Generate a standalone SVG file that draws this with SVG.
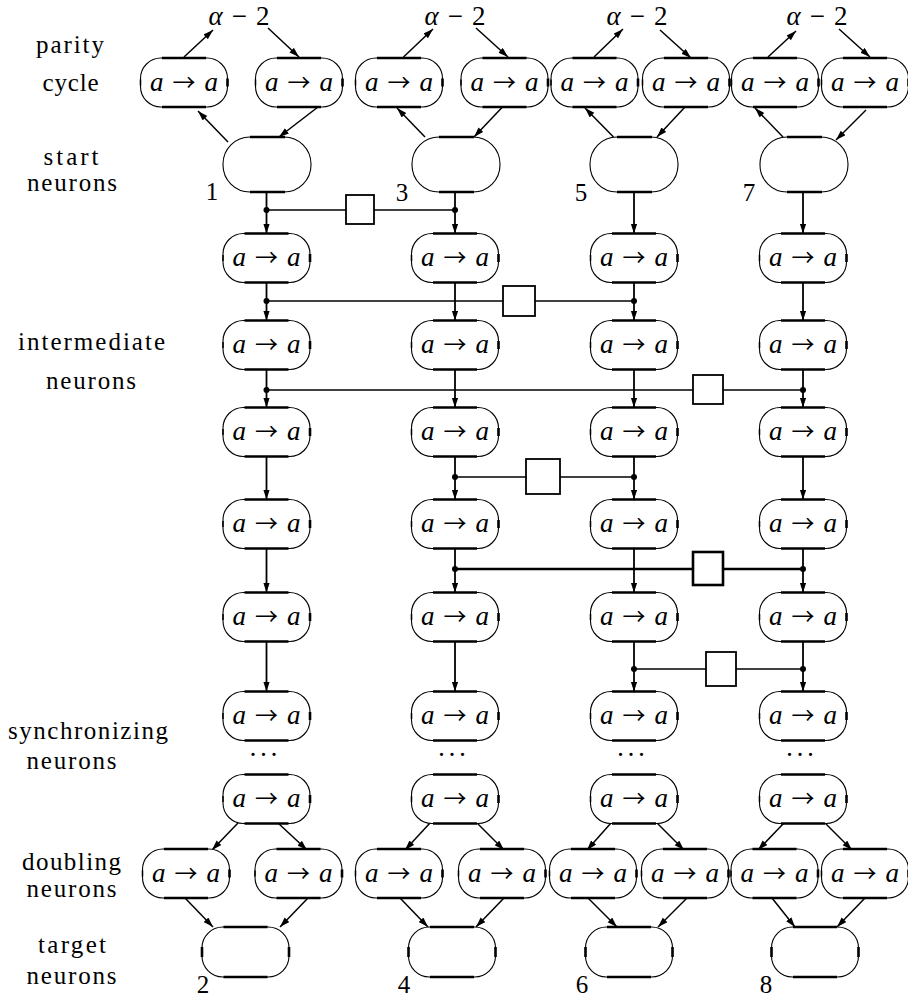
<svg xmlns="http://www.w3.org/2000/svg" xmlns:xlink="http://www.w3.org/1999/xlink" width="908" height="998" viewBox="0 0 908 998">
<style>
text{font-family:"Liberation Serif","DejaVu Serif",serif;fill:#000}
.lab{font-size:25px;text-anchor:middle}
.aa{font-size:27px;text-anchor:middle}
.i{font-style:italic}
.ar{font-family:"Noto Sans CJK JP","DejaVu Serif",serif;font-size:23px;font-style:normal}
.o{fill:#fff;stroke:#000;stroke-width:1.1}
.t{fill:none;stroke:#000;stroke-width:2.6}
.k{fill:none;stroke:#000;stroke-width:2.6}
.v{stroke:#000;stroke-width:1.8;fill:none}
.d{stroke:#000;stroke-width:1.5;fill:none}
.h{stroke:#000;stroke-width:1.4;fill:none}
.hb{stroke:#000;stroke-width:2.4;fill:none}
.dot{fill:#000}
.bx{fill:#fff;stroke:#000;stroke-width:1.8}
.bxb{fill:#fff;stroke:#000;stroke-width:2.6}
</style>
<defs>
<marker id="ah" markerWidth="11" markerHeight="8" refX="10" refY="3.25" orient="auto" markerUnits="userSpaceOnUse">
<path d="M0,0 L10,3.25 L0,6.5 z" fill="#000"/>
</marker>
<g id="nm">
<rect class="o" x="-43.5" y="-24.5" width="87" height="49" rx="20.5" ry="20.5"/>
<path class="t" d="M-22,-24.5 H22 M-22,24.5 H22"/>
<path class="k" d="M43.5,-4 V4"/>
<path class="d" d="M-43.5,-3 V3"/>
</g>
<g id="ns">
<rect class="o" x="-44" y="-27.5" width="88" height="55" rx="27" ry="27"/>
<path class="t" d="M-17,-27.5 H18 M-17,27.5 H18"/>
</g>
<g id="nt">
<rect class="o" x="-43.5" y="-25" width="87" height="50" rx="21" ry="21"/>
<path class="t" d="M-22,-25 H22 M-22,25 H22"/>
<path class="k" d="M43.5,-5 V5 M-43.5,-5 V5"/>
</g>
</defs>

<g id="side-labels">
<text class="lab" x="70" y="53" textLength="68" lengthAdjust="spacing">parity</text>
<text class="lab" x="70.5" y="91" textLength="56" lengthAdjust="spacing">cycle</text>
<text class="lab" x="71" y="165" textLength="55" lengthAdjust="spacing">start</text>
<text class="lab" x="72" y="191" textLength="90" lengthAdjust="spacing">neurons</text>
<text class="lab" x="91.5" y="350" textLength="147" lengthAdjust="spacing">intermediate</text>
<text class="lab" x="91" y="389" textLength="90" lengthAdjust="spacing">neurons</text>
<text class="lab" x="88" y="739" textLength="160" lengthAdjust="spacing">synchronizing</text>
<text class="lab" x="71.5" y="769" textLength="90" lengthAdjust="spacing">neurons</text>
<text class="lab" x="71.5" y="870" textLength="99" lengthAdjust="spacing">doubling</text>
<text class="lab" x="71.5" y="897" textLength="90" lengthAdjust="spacing">neurons</text>
<text class="lab" x="72" y="953" textLength="68" lengthAdjust="spacing">target</text>
<text class="lab" x="71.5" y="984" textLength="90" lengthAdjust="spacing">neurons</text>
</g>

<g id="connectors">
<line class="d" x1="184" y1="57" x2="213" y2="30" marker-end="url(#ah)"/>
<line class="d" x1="268" y1="28" x2="299" y2="57" marker-end="url(#ah)"/>
<line class="d" x1="228" y1="142" x2="198" y2="111" marker-end="url(#ah)"/>
<line class="d" x1="318" y1="107" x2="279" y2="137" marker-end="url(#ah)"/>
<line class="d" x1="403.5" y1="57" x2="433" y2="29" marker-end="url(#ah)"/>
<line class="d" x1="476" y1="28" x2="508" y2="57" marker-end="url(#ah)"/>
<line class="d" x1="425" y1="137" x2="397" y2="108" marker-end="url(#ah)"/>
<line class="d" x1="502.5" y1="107" x2="474" y2="137" marker-end="url(#ah)"/>
<line class="d" x1="594" y1="57" x2="623" y2="29" marker-end="url(#ah)"/>
<line class="d" x1="660" y1="30" x2="691" y2="58" marker-end="url(#ah)"/>
<line class="d" x1="613.5" y1="137" x2="585" y2="108" marker-end="url(#ah)"/>
<line class="d" x1="685" y1="107" x2="657" y2="137" marker-end="url(#ah)"/>
<line class="d" x1="768" y1="57" x2="796" y2="31" marker-end="url(#ah)"/>
<line class="d" x1="839" y1="29" x2="870" y2="57" marker-end="url(#ah)"/>
<line class="d" x1="783" y1="137" x2="755" y2="108" marker-end="url(#ah)"/>
<line class="d" x1="866" y1="110" x2="836" y2="140" marker-end="url(#ah)"/>

<line class="v" x1="266.5" y1="192" x2="266.5" y2="233.5" marker-end="url(#ah)"/>
<line class="v" x1="266.5" y1="282.5" x2="266.5" y2="320.5" marker-end="url(#ah)"/>
<line class="v" x1="266.5" y1="369.5" x2="266.5" y2="407.5" marker-end="url(#ah)"/>
<line class="v" x1="266.5" y1="456.5" x2="266.5" y2="499.5" marker-end="url(#ah)"/>
<line class="v" x1="266.5" y1="548.5" x2="266.5" y2="592.5" marker-end="url(#ah)"/>
<line class="v" x1="266.5" y1="641.5" x2="266.5" y2="691.5" marker-end="url(#ah)"/>
<line class="v" x1="455" y1="192" x2="455" y2="233.5" marker-end="url(#ah)"/>
<line class="v" x1="455" y1="282.5" x2="455" y2="320.5" marker-end="url(#ah)"/>
<line class="v" x1="455" y1="369.5" x2="455" y2="407.5" marker-end="url(#ah)"/>
<line class="v" x1="455" y1="456.5" x2="455" y2="499.5" marker-end="url(#ah)"/>
<line class="v" x1="455" y1="548.5" x2="455" y2="592.5" marker-end="url(#ah)"/>
<line class="v" x1="455" y1="641.5" x2="455" y2="691.5" marker-end="url(#ah)"/>
<line class="v" x1="634" y1="192" x2="634" y2="233.5" marker-end="url(#ah)"/>
<line class="v" x1="634" y1="282.5" x2="634" y2="320.5" marker-end="url(#ah)"/>
<line class="v" x1="634" y1="369.5" x2="634" y2="407.5" marker-end="url(#ah)"/>
<line class="v" x1="634" y1="456.5" x2="634" y2="499.5" marker-end="url(#ah)"/>
<line class="v" x1="634" y1="548.5" x2="634" y2="592.5" marker-end="url(#ah)"/>
<line class="v" x1="634" y1="641.5" x2="634" y2="691.5" marker-end="url(#ah)"/>
<line class="v" x1="803" y1="192" x2="803" y2="233.5" marker-end="url(#ah)"/>
<line class="v" x1="803" y1="282.5" x2="803" y2="320.5" marker-end="url(#ah)"/>
<line class="v" x1="803" y1="369.5" x2="803" y2="407.5" marker-end="url(#ah)"/>
<line class="v" x1="803" y1="456.5" x2="803" y2="499.5" marker-end="url(#ah)"/>
<line class="v" x1="803" y1="548.5" x2="803" y2="592.5" marker-end="url(#ah)"/>
<line class="v" x1="803" y1="641.5" x2="803" y2="691.5" marker-end="url(#ah)"/>

<line class="h" x1="266.5" y1="210" x2="455" y2="210"/>
<line class="h" x1="266.5" y1="301" x2="634" y2="301"/>
<line class="h" x1="266.5" y1="390" x2="803" y2="390"/>
<line class="h" x1="455" y1="477" x2="634" y2="477"/>
<line class="hb" x1="455" y1="569" x2="803" y2="569"/>
<line class="h" x1="634" y1="669" x2="803" y2="669"/>
<circle class="dot" cx="266.5" cy="210" r="3"/>
<circle class="dot" cx="455" cy="210" r="3"/>
<circle class="dot" cx="266.5" cy="301" r="3"/>
<circle class="dot" cx="634" cy="301" r="3"/>
<circle class="dot" cx="266.5" cy="390" r="3"/>
<circle class="dot" cx="803" cy="390" r="3"/>
<circle class="dot" cx="455" cy="477" r="3"/>
<circle class="dot" cx="634" cy="477" r="3"/>
<circle class="dot" cx="455" cy="569" r="3"/>
<circle class="dot" cx="803" cy="569" r="3"/>
<circle class="dot" cx="634" cy="669" r="3"/>
<circle class="dot" cx="803" cy="669" r="3"/>

<line class="d" x1="238" y1="823" x2="212" y2="850" marker-end="url(#ah)"/>
<line class="d" x1="278" y1="823" x2="307" y2="850" marker-end="url(#ah)"/>
<line class="d" x1="185" y1="898" x2="213" y2="927" marker-end="url(#ah)"/>
<line class="d" x1="308" y1="898" x2="280" y2="927" marker-end="url(#ah)"/>
<line class="d" x1="430" y1="823" x2="405" y2="850" marker-end="url(#ah)"/>
<line class="d" x1="477" y1="823" x2="504" y2="850" marker-end="url(#ah)"/>
<line class="d" x1="400" y1="898" x2="428" y2="927" marker-end="url(#ah)"/>
<line class="d" x1="504" y1="898" x2="476" y2="927" marker-end="url(#ah)"/>
<line class="d" x1="611" y1="823" x2="587" y2="850" marker-end="url(#ah)"/>
<line class="d" x1="657" y1="823" x2="684" y2="850" marker-end="url(#ah)"/>
<line class="d" x1="588" y1="898" x2="617" y2="927" marker-end="url(#ah)"/>
<line class="d" x1="687" y1="898" x2="658" y2="927" marker-end="url(#ah)"/>
<line class="d" x1="784" y1="823" x2="758" y2="850" marker-end="url(#ah)"/>
<line class="d" x1="825" y1="823" x2="852" y2="850" marker-end="url(#ah)"/>
<line class="d" x1="772" y1="898" x2="795" y2="927" marker-end="url(#ah)"/>
<line class="d" x1="865" y1="898" x2="837" y2="927" marker-end="url(#ah)"/>
</g>

<g id="delay-boxes">
<rect id="box1" class="bx" x="346" y="195" width="28" height="29"/>
<rect id="box2" class="bx" x="503" y="286" width="32" height="30"/>
<rect id="box3" class="bx" x="693" y="375" width="30" height="29"/>
<rect id="box4" class="bx" x="526" y="459" width="34" height="35"/>
<rect id="box5" class="bxb" x="693" y="552" width="30" height="33"/>
<rect id="box6" class="bx" x="706" y="652" width="30" height="34"/>
</g>

<g id="alpha-labels">
<text class="aa" x="239" y="25" textLength="61" lengthAdjust="spacing"><tspan class="i">α</tspan> − 2</text>
<text class="aa" x="455" y="25" textLength="61" lengthAdjust="spacing"><tspan class="i">α</tspan> − 2</text>
<text class="aa" x="637" y="25" textLength="61" lengthAdjust="spacing"><tspan class="i">α</tspan> − 2</text>
<text class="aa" x="817" y="25" textLength="61" lengthAdjust="spacing"><tspan class="i">α</tspan> − 2</text>
</g>

<g id="p1a" transform="translate(184,82.5)"><use href="#nm"/><text class="aa" x="0" y="8" textLength="68" lengthAdjust="spacing"><tspan class="i">a</tspan> <tspan class="ar">→</tspan> <tspan class="i">a</tspan></text></g>
<g id="p1b" transform="translate(299,82.5)"><use href="#nm"/><text class="aa" x="0" y="8" textLength="68" lengthAdjust="spacing"><tspan class="i">a</tspan> <tspan class="ar">→</tspan> <tspan class="i">a</tspan></text></g>
<g id="p2a" transform="translate(399,82.5)"><use href="#nm"/><text class="aa" x="0" y="8" textLength="68" lengthAdjust="spacing"><tspan class="i">a</tspan> <tspan class="ar">→</tspan> <tspan class="i">a</tspan></text></g>
<g id="p2b" transform="translate(504.5,82.5)"><use href="#nm"/><text class="aa" x="0" y="8" textLength="68" lengthAdjust="spacing"><tspan class="i">a</tspan> <tspan class="ar">→</tspan> <tspan class="i">a</tspan></text></g>
<g id="p3a" transform="translate(594.5,82.5)"><use href="#nm"/><text class="aa" x="0" y="8" textLength="68" lengthAdjust="spacing"><tspan class="i">a</tspan> <tspan class="ar">→</tspan> <tspan class="i">a</tspan></text></g>
<g id="p3b" transform="translate(686,82.5)"><use href="#nm"/><text class="aa" x="0" y="8" textLength="68" lengthAdjust="spacing"><tspan class="i">a</tspan> <tspan class="ar">→</tspan> <tspan class="i">a</tspan></text></g>
<g id="p4a" transform="translate(775,82.5)"><use href="#nm"/><text class="aa" x="0" y="8" textLength="68" lengthAdjust="spacing"><tspan class="i">a</tspan> <tspan class="ar">→</tspan> <tspan class="i">a</tspan></text></g>
<g id="p4b" transform="translate(865,82.5)"><use href="#nm"/><text class="aa" x="0" y="8" textLength="68" lengthAdjust="spacing"><tspan class="i">a</tspan> <tspan class="ar">→</tspan> <tspan class="i">a</tspan></text></g>

<g id="s1" transform="translate(267,164.5)"><use href="#ns"/><text class="lab" x="-55" y="35.5">1</text></g>
<g id="s3" transform="translate(456,164.5)"><use href="#ns"/><text class="lab" x="-54" y="36.5">3</text></g>
<g id="s5" transform="translate(634,164.5)"><use href="#ns"/><text class="lab" x="-53" y="36.5">5</text></g>
<g id="s7" transform="translate(804,164.5)"><use href="#ns"/><text class="lab" x="-55" y="36.5">7</text></g>

<g id="c1r0" transform="translate(266.5,258)"><use href="#nm"/><text class="aa" x="0" y="8" textLength="68" lengthAdjust="spacing"><tspan class="i">a</tspan> <tspan class="ar">→</tspan> <tspan class="i">a</tspan></text></g>
<g id="c1r1" transform="translate(266.5,345)"><use href="#nm"/><text class="aa" x="0" y="8" textLength="68" lengthAdjust="spacing"><tspan class="i">a</tspan> <tspan class="ar">→</tspan> <tspan class="i">a</tspan></text></g>
<g id="c1r2" transform="translate(266.5,432)"><use href="#nm"/><text class="aa" x="0" y="8" textLength="68" lengthAdjust="spacing"><tspan class="i">a</tspan> <tspan class="ar">→</tspan> <tspan class="i">a</tspan></text></g>
<g id="c1r3" transform="translate(266.5,524)"><use href="#nm"/><text class="aa" x="0" y="8" textLength="68" lengthAdjust="spacing"><tspan class="i">a</tspan> <tspan class="ar">→</tspan> <tspan class="i">a</tspan></text></g>
<g id="c1r4" transform="translate(266.5,617)"><use href="#nm"/><text class="aa" x="0" y="8" textLength="68" lengthAdjust="spacing"><tspan class="i">a</tspan> <tspan class="ar">→</tspan> <tspan class="i">a</tspan></text></g>
<g id="c1r5" transform="translate(266.5,716)"><use href="#nm"/><text class="aa" x="0" y="8" textLength="68" lengthAdjust="spacing"><tspan class="i">a</tspan> <tspan class="ar">→</tspan> <tspan class="i">a</tspan></text></g>
<g id="c1dots"><text class="aa" x="263.5" y="764" textLength="30" lengthAdjust="spacing">· · ·</text></g>
<g id="c1r6" transform="translate(266.5,799)"><use href="#nm"/><text class="aa" x="0" y="8" textLength="68" lengthAdjust="spacing"><tspan class="i">a</tspan> <tspan class="ar">→</tspan> <tspan class="i">a</tspan></text></g>

<g id="c2r0" transform="translate(455,258)"><use href="#nm"/><text class="aa" x="0" y="8" textLength="68" lengthAdjust="spacing"><tspan class="i">a</tspan> <tspan class="ar">→</tspan> <tspan class="i">a</tspan></text></g>
<g id="c2r1" transform="translate(455,345)"><use href="#nm"/><text class="aa" x="0" y="8" textLength="68" lengthAdjust="spacing"><tspan class="i">a</tspan> <tspan class="ar">→</tspan> <tspan class="i">a</tspan></text></g>
<g id="c2r2" transform="translate(455,432)"><use href="#nm"/><text class="aa" x="0" y="8" textLength="68" lengthAdjust="spacing"><tspan class="i">a</tspan> <tspan class="ar">→</tspan> <tspan class="i">a</tspan></text></g>
<g id="c2r3" transform="translate(455,524)"><use href="#nm"/><text class="aa" x="0" y="8" textLength="68" lengthAdjust="spacing"><tspan class="i">a</tspan> <tspan class="ar">→</tspan> <tspan class="i">a</tspan></text></g>
<g id="c2r4" transform="translate(455,617)"><use href="#nm"/><text class="aa" x="0" y="8" textLength="68" lengthAdjust="spacing"><tspan class="i">a</tspan> <tspan class="ar">→</tspan> <tspan class="i">a</tspan></text></g>
<g id="c2r5" transform="translate(455,716)"><use href="#nm"/><text class="aa" x="0" y="8" textLength="68" lengthAdjust="spacing"><tspan class="i">a</tspan> <tspan class="ar">→</tspan> <tspan class="i">a</tspan></text></g>
<g id="c2dots"><text class="aa" x="452" y="764" textLength="30" lengthAdjust="spacing">· · ·</text></g>
<g id="c2r6" transform="translate(455,799)"><use href="#nm"/><text class="aa" x="0" y="8" textLength="68" lengthAdjust="spacing"><tspan class="i">a</tspan> <tspan class="ar">→</tspan> <tspan class="i">a</tspan></text></g>

<g id="c3r0" transform="translate(634,258)"><use href="#nm"/><text class="aa" x="0" y="8" textLength="68" lengthAdjust="spacing"><tspan class="i">a</tspan> <tspan class="ar">→</tspan> <tspan class="i">a</tspan></text></g>
<g id="c3r1" transform="translate(634,345)"><use href="#nm"/><text class="aa" x="0" y="8" textLength="68" lengthAdjust="spacing"><tspan class="i">a</tspan> <tspan class="ar">→</tspan> <tspan class="i">a</tspan></text></g>
<g id="c3r2" transform="translate(634,432)"><use href="#nm"/><text class="aa" x="0" y="8" textLength="68" lengthAdjust="spacing"><tspan class="i">a</tspan> <tspan class="ar">→</tspan> <tspan class="i">a</tspan></text></g>
<g id="c3r3" transform="translate(634,524)"><use href="#nm"/><text class="aa" x="0" y="8" textLength="68" lengthAdjust="spacing"><tspan class="i">a</tspan> <tspan class="ar">→</tspan> <tspan class="i">a</tspan></text></g>
<g id="c3r4" transform="translate(634,617)"><use href="#nm"/><text class="aa" x="0" y="8" textLength="68" lengthAdjust="spacing"><tspan class="i">a</tspan> <tspan class="ar">→</tspan> <tspan class="i">a</tspan></text></g>
<g id="c3r5" transform="translate(634,716)"><use href="#nm"/><text class="aa" x="0" y="8" textLength="68" lengthAdjust="spacing"><tspan class="i">a</tspan> <tspan class="ar">→</tspan> <tspan class="i">a</tspan></text></g>
<g id="c3dots"><text class="aa" x="631" y="764" textLength="30" lengthAdjust="spacing">· · ·</text></g>
<g id="c3r6" transform="translate(634,799)"><use href="#nm"/><text class="aa" x="0" y="8" textLength="68" lengthAdjust="spacing"><tspan class="i">a</tspan> <tspan class="ar">→</tspan> <tspan class="i">a</tspan></text></g>

<g id="c4r0" transform="translate(803,258)"><use href="#nm"/><text class="aa" x="0" y="8" textLength="68" lengthAdjust="spacing"><tspan class="i">a</tspan> <tspan class="ar">→</tspan> <tspan class="i">a</tspan></text></g>
<g id="c4r1" transform="translate(803,345)"><use href="#nm"/><text class="aa" x="0" y="8" textLength="68" lengthAdjust="spacing"><tspan class="i">a</tspan> <tspan class="ar">→</tspan> <tspan class="i">a</tspan></text></g>
<g id="c4r2" transform="translate(803,432)"><use href="#nm"/><text class="aa" x="0" y="8" textLength="68" lengthAdjust="spacing"><tspan class="i">a</tspan> <tspan class="ar">→</tspan> <tspan class="i">a</tspan></text></g>
<g id="c4r3" transform="translate(803,524)"><use href="#nm"/><text class="aa" x="0" y="8" textLength="68" lengthAdjust="spacing"><tspan class="i">a</tspan> <tspan class="ar">→</tspan> <tspan class="i">a</tspan></text></g>
<g id="c4r4" transform="translate(803,617)"><use href="#nm"/><text class="aa" x="0" y="8" textLength="68" lengthAdjust="spacing"><tspan class="i">a</tspan> <tspan class="ar">→</tspan> <tspan class="i">a</tspan></text></g>
<g id="c4r5" transform="translate(803,716)"><use href="#nm"/><text class="aa" x="0" y="8" textLength="68" lengthAdjust="spacing"><tspan class="i">a</tspan> <tspan class="ar">→</tspan> <tspan class="i">a</tspan></text></g>
<g id="c4dots"><text class="aa" x="800" y="764" textLength="30" lengthAdjust="spacing">· · ·</text></g>
<g id="c4r6" transform="translate(803,799)"><use href="#nm"/><text class="aa" x="0" y="8" textLength="68" lengthAdjust="spacing"><tspan class="i">a</tspan> <tspan class="ar">→</tspan> <tspan class="i">a</tspan></text></g>

<g id="d1a" transform="translate(186,873.5)"><use href="#nm"/><text class="aa" x="0" y="8" textLength="68" lengthAdjust="spacing"><tspan class="i">a</tspan> <tspan class="ar">→</tspan> <tspan class="i">a</tspan></text></g>
<g id="d1b" transform="translate(298.5,873.5)"><use href="#nm"/><text class="aa" x="0" y="8" textLength="68" lengthAdjust="spacing"><tspan class="i">a</tspan> <tspan class="ar">→</tspan> <tspan class="i">a</tspan></text></g>
<g id="d2a" transform="translate(399,873.5)"><use href="#nm"/><text class="aa" x="0" y="8" textLength="68" lengthAdjust="spacing"><tspan class="i">a</tspan> <tspan class="ar">→</tspan> <tspan class="i">a</tspan></text></g>
<g id="d2b" transform="translate(502,873.5)"><use href="#nm"/><text class="aa" x="0" y="8" textLength="68" lengthAdjust="spacing"><tspan class="i">a</tspan> <tspan class="ar">→</tspan> <tspan class="i">a</tspan></text></g>
<g id="d3a" transform="translate(593,873.5)"><use href="#nm"/><text class="aa" x="0" y="8" textLength="68" lengthAdjust="spacing"><tspan class="i">a</tspan> <tspan class="ar">→</tspan> <tspan class="i">a</tspan></text></g>
<g id="d3b" transform="translate(685,873.5)"><use href="#nm"/><text class="aa" x="0" y="8" textLength="68" lengthAdjust="spacing"><tspan class="i">a</tspan> <tspan class="ar">→</tspan> <tspan class="i">a</tspan></text></g>
<g id="d4a" transform="translate(774.5,873.5)"><use href="#nm"/><text class="aa" x="0" y="8" textLength="68" lengthAdjust="spacing"><tspan class="i">a</tspan> <tspan class="ar">→</tspan> <tspan class="i">a</tspan></text></g>
<g id="d4b" transform="translate(865,873.5)"><use href="#nm"/><text class="aa" x="0" y="8" textLength="68" lengthAdjust="spacing"><tspan class="i">a</tspan> <tspan class="ar">→</tspan> <tspan class="i">a</tspan></text></g>

<g id="t2" transform="translate(245.5,952)"><use href="#nt"/><text class="lab" x="-42.5" y="41">2</text></g>
<g id="t4" transform="translate(452,952)"><use href="#nt"/><text class="lab" x="-48" y="41">4</text></g>
<g id="t6" transform="translate(629,952)"><use href="#nt"/><text class="lab" x="-47" y="41">6</text></g>
<g id="t8" transform="translate(815,952)"><use href="#nt"/><text class="lab" x="-49" y="41">8</text></g>
</svg>
